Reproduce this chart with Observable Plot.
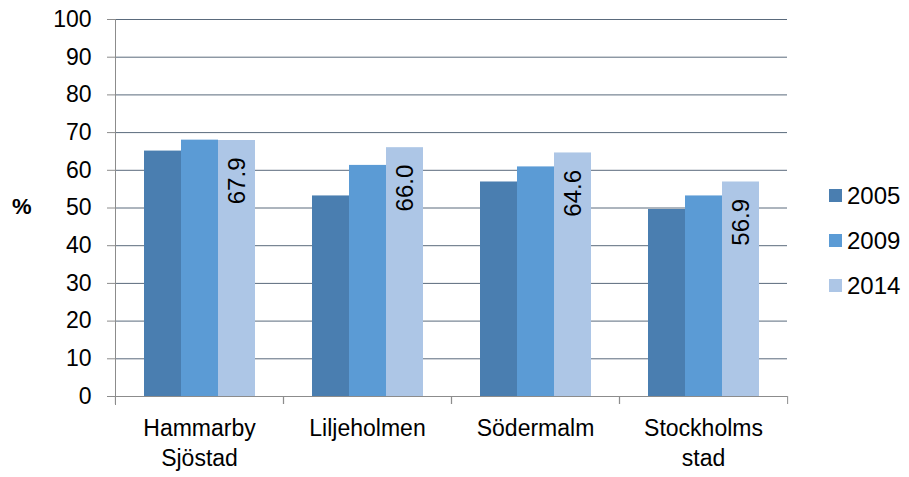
<!DOCTYPE html>
<html>
<head>
<meta charset="utf-8">
<script src="https://cdn.jsdelivr.net/npm/d3@7"></script>
<script src="https://cdn.jsdelivr.net/npm/@observablehq/plot@0.6"></script>
<style>
  html, body { margin: 0; padding: 0; background: #fff; }
  #wrap { position: relative; width: 909px; height: 477px; font-family: "Liberation Sans", Arial, sans-serif; }
  #ylabel { position: absolute; left: 12px; top: 194px; font-size: 22px; font-weight: bold; color: #000; }
  #legend { position: absolute; left: 829px; top: 173px; font-size: 24px; color: #000; }
  #legend .row { display: flex; align-items: center; height: 45px; }
  #legend .sw { width: 13px; height: 13px; margin-right: 5px; }
</style>
</head>
<body>
<div id="wrap">
  <div id="chart"></div>
  <div id="ylabel">%</div>
  <div id="legend"></div>
</div>
<script>
const categories = ["Hammarby Sjöstad", "Liljeholmen", "Södermalm", "Stockholms stad"];
const years = ["2005", "2009", "2014"];
const values2005 = [65.1, 53.2, 56.9, 49.6];
const values2009 = [68.0, 61.3, 60.9, 53.2];
const values2014 = [67.9, 66.0, 64.6, 56.9];
const colors = ["#4a7eb0", "#5b9bd5", "#adc6e6"];
const yTicks = [0, 10, 20, 30, 40, 50, 60, 70, 80, 90, 100];

const series = [values2005, values2009, values2014];
const data = [];
categories.forEach((c, i) => {
  years.forEach((y, j) => data.push({category: c, year: y, value: series[j][i]}));
});
const labelData = data.filter(d => d.year === "2014");

const W = 909, H = 477;
const mL = 114, mR = 122, mT = 19, mB = 81;
const bw = (W - mL - mR) / categories.length;

const chart = Plot.plot({
  width: W,
  height: H,
  marginLeft: mL,
  marginRight: mR,
  marginTop: mT,
  marginBottom: mB,
  style: {fontFamily: "Liberation Sans, Arial, sans-serif", background: "#fff", color: "#000"},
  fx: {domain: categories, padding: 0, label: null},
  x: {domain: years, paddingInner: 0, paddingOuter: 0.74, axis: null},
  y: {domain: [0, 100], label: null},
  color: {domain: years, range: colors},
  marks: [
    Plot.gridY(yTicks.filter(t => t > 0), {stroke: "#5a6a7c", strokeOpacity: 1}),
    Plot.barY(data, {fx: "category", x: "year", y: "value", fill: "year"}),
    Plot.text(labelData, {
      fx: "category", x: "year", y: "value",
      text: d => d.value.toFixed(1),
      rotate: -90, textAnchor: "end", lineAnchor: "middle",
      dy: 17, fontSize: 24, fill: "#000"
    }),
    Plot.ruleY([0], {stroke: "#8c8c8c"}),
    Plot.frame({anchor: "left", facetAnchor: "left", stroke: "#8c8c8c", insetBottom: -8}),
    Plot.axisY({ticks: yTicks, tickSize: 8, tickPadding: 16, fontSize: 23, stroke: "#8c8c8c", label: null, tickFormat: d => String(d)}),
    Plot.axisFx({anchor: "bottom", tickSize: 8, dx: -bw / 2, stroke: "#8c8c8c", tickFormat: () => "", label: null}),
    Plot.axisFx({anchor: "bottom", tickSize: 8, dx: bw / 2, stroke: "#8c8c8c", tickFormat: () => "", label: null}),
    Plot.axisFx({anchor: "bottom", tickSize: 0, tickPadding: 19, fontSize: 23, lineHeight: 1.28, label: null, tickFormat: d => d.replace(" ", "\n")})
  ]
});
document.getElementById("chart").appendChild(chart);

const legend = document.getElementById("legend");
years.forEach((y, j) => {
  const row = document.createElement("div");
  row.className = "row";
  const sw = document.createElement("div");
  sw.className = "sw";
  sw.style.background = colors[j];
  const t = document.createElement("span");
  t.textContent = y;
  row.appendChild(sw);
  row.appendChild(t);
  legend.appendChild(row);
});
</script>
</body>
</html>
